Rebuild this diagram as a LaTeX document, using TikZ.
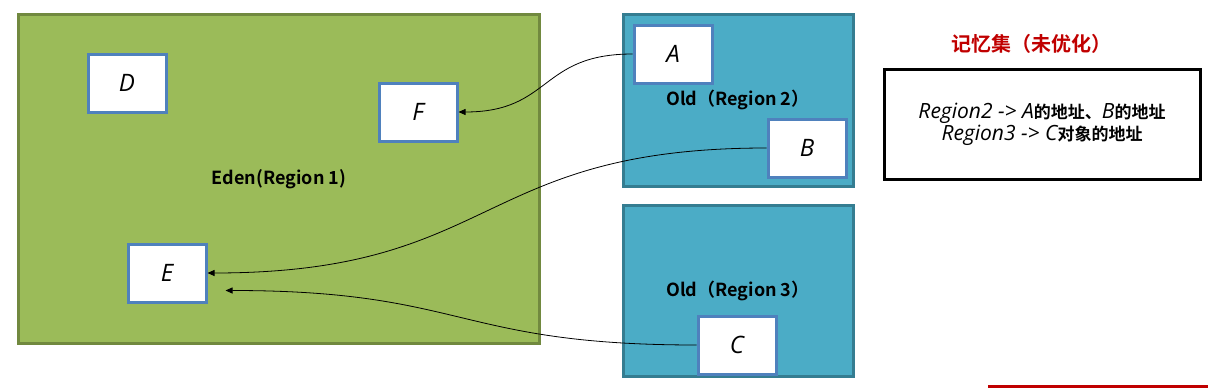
\documentclass[tikz,border=0pt]{standalone}
\usepackage{fontspec}
\usetikzlibrary{arrows.meta,calc}
\newfontfamily\cjk{Noto Sans CJK SC}[BoldFont={Noto Sans CJK SC Bold}]
\newfontfamily\hand{Open Sans}
\definecolor{edenfill}{HTML}{9BBB59}
\definecolor{edenline}{HTML}{71893F}
\definecolor{oldfill}{HTML}{4BACC6}
\definecolor{oldline}{HTML}{357D91}
\definecolor{objline}{HTML}{4F81BD}
\definecolor{titlered}{HTML}{C00000}
\newcommand\handtxt[1]{{\hand\itshape\fontsize{21}{22}\selectfont #1}}
\newcommand\cjktxt[1]{{\cjk\bfseries\fontsize{17}{22}\selectfont #1}}
\tikzset{
  region/.style={draw, line width=3pt, inner sep=0pt, font=\cjk\bfseries\fontsize{18}{20}\selectfont},
  eden/.style={region, fill=edenfill, draw=edenline},
  oldreg/.style={region, fill=oldfill, draw=oldline},
  obj/.style={draw=objline, fill=white, line width=3pt, minimum width=78pt, minimum height=58pt, inner sep=0pt, font=\hand\itshape\fontsize{24}{26}\selectfont},
  ref/.style={draw=black, line width=0.8pt, -{Triangle[length=7pt,width=6pt]}},
}
\begin{document}
\begin{tikzpicture}[x=1pt,y=-1pt]
\useasboundingbox (0,0) rectangle (1208,388);
% regions
\node[eden, minimum width=521pt, minimum height=329pt] (eden) at (279,179) {Eden(Region 1)};
\node[oldreg, minimum width=230pt, minimum height=172pt] (old2) at (738,100) {Old（Region 2）};
\node[oldreg, minimum width=230pt, minimum height=171pt] (old3) at (738,291) {Old（Region 3）};
% objects
\node[obj] (D) at (127,83) {D};
\node[obj] (F) at (418,112) {F};
\node[obj] (E) at (167,273) {E};
\node[obj] (A) at (673,54) {A};
\node[obj] (B) at (807,148) {B};
\node[obj] (C) at (737,345) {C};
% title and remembered set
\node[font=\cjk\bfseries\fontsize{20}{24}\selectfont, text=titlered] (title) at (1031,44) {记忆集（未优化）};
\node[draw=black, line width=3pt, minimum width=316pt, minimum height=110pt, align=center, inner sep=0pt,
      font=\fontsize{17}{22}\selectfont] (rset) at (1042,124)
  {\handtxt{Region2 -> A}\cjktxt{的地址、}\handtxt{B}\cjktxt{的地址}\\
   \handtxt{Region3 -> C}\cjktxt{对象的地址}};
% references
\coordinate (Eend) at ($(E.south east)+(18,-13)$);
\draw[ref] (A.west) to[out=180,in=0,looseness=1.3] (F.east);
\draw[ref] (B.west) to[out=180,in=0,looseness=1.3] (E.east);
\draw[ref] (C.west) to[out=180,in=0,looseness=1.3] (Eend);
% partial red rule at the bottom
\fill[titlered] (988,385) rectangle (1208,388);
\end{tikzpicture}
\end{document}
